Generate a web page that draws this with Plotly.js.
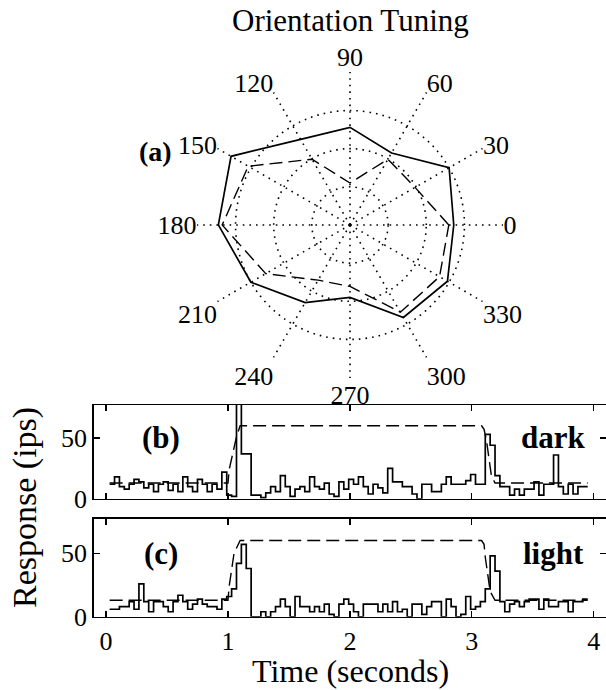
<!DOCTYPE html>
<html>
<head>
<meta charset="utf-8">
<script src="https://cdn.plot.ly/plotly-3.0.1.min.js"></script>
<style>html,body{margin:0;padding:0;background:#fff;}#chart{width:606px;height:690px;}</style>
</head>
<body>
<div id="chart"></div>
<script>
// ---------- Orientation tuning (polar) ----------
var angles = [0, 30, 60, 90, 120, 150, 180, 210, 240, 270, 300, 330];
var angleLabels = ["0", "30", "60", "90", "120", "150", "180", "210", "240", "270", "300", "330"];
var tuningSolid  = [2.72, 3.00, 2.18, 2.56, 2.59, 3.60, 3.45, 3.00, 2.35, 1.90, 2.80, 2.95];
var tuningDashed = [2.59, 1.97, 1.99, 1.10, 1.99, 3.08, 3.35, 2.55, 1.67, 1.61, 2.64, 2.71];
var ringValues = [1, 2, 3, 4];

// ---------- PSTH bins (left edges, 0.04 s) ----------
var binEdges = [0.03,0.07,0.11,0.15,0.19,0.23,0.27,0.31,0.35,0.39,0.43,0.47,0.51,0.55,0.59,0.63,0.67,0.71,0.75,0.79,
  0.83,0.87,0.91,0.95,0.99,1.03,1.07,1.11,1.15,1.19,1.23,1.27,1.31,1.35,1.39,1.43,1.47,1.51,1.55,1.59,
  1.63,1.67,1.71,1.75,1.79,1.83,1.87,1.91,1.95,1.99,2.03,2.07,2.11,2.15,2.19,2.23,2.27,2.31,2.35,2.39,
  2.43,2.47,2.51,2.55,2.59,2.63,2.67,2.71,2.75,2.79,2.83,2.87,2.91,2.95,2.99,3.03,3.07,3.11,3.15,3.19,
  3.23,3.27,3.31,3.35,3.39,3.43,3.47,3.51,3.55,3.59,3.63,3.67,3.71,3.75,3.79,3.83,3.87,3.91,3.95];

var darkRate = [12,18,10,8,12,16,14,9,12,6,12,14,7,12,6,18,10,6,16,12,
  6,12,8,22,3,2,110,37,37,3,3,1,5,10,6,19,10,2,8,10,
  6,18,10,8,13,4,2,14,8,16,12,18,10,4,12,9,5,25,14,14,
  10,10,4,0,12,12,6,6,12,18,12,12,12,15,20,12,12,53,44,19,
  10,10,3,8,3,8,8,14,3,12,12,36,10,4,12,4,10,10];

var lightRate = [6,6,8,8,12,6,26,12,4,12,12,8,4,12,17,12,6,10,14,10,
  8,8,6,14,16,22,42,57,38,0,0,4,0,4,8,14,8,0,16,8,
  8,4,8,4,10,2,0,10,14,10,4,0,10,10,10,4,10,4,12,4,
  6,0,10,10,2,8,12,12,0,14,8,0,2,16,6,8,12,22,48,36,
  12,4,10,12,8,12,14,14,6,14,8,8,12,12,4,12,12,14];

// model (dashed) traces
var darkModelT = [0.03, 1.00, 1.01, 1.07, 1.10, 3.08, 3.10, 3.12, 3.16, 3.19, 3.95];
var darkModelR = [13, 13, 24, 51, 60, 60, 57, 48, 19, 13, 13];
var lightModelT = [0.03, 1.00, 1.01, 1.05, 1.10, 3.08, 3.10, 3.11, 3.15, 3.19, 3.95];
var lightModelR = [13, 13, 24, 50, 60, 60, 57, 47, 20, 13, 13];

var timeTicks = [0, 1, 2, 3, 4];
var rateTicks = [0, 50];

function closeLoop(a) { return a.concat([a[0]]); }
function stepY(v) { return v.concat([v[v.length - 1]]); }

var serif = "Liberation Serif";

var traces = [
  {type: "scatterpolar", subplot: "polar", theta: closeLoop(angles), r: closeLoop(tuningSolid),
   mode: "lines", line: {color: "#000", width: 1.7}, showlegend: false, hoverinfo: "skip"},
  {type: "scatterpolar", subplot: "polar", theta: closeLoop(angles), r: closeLoop(tuningDashed),
   mode: "lines", line: {color: "#000", width: 1.4, dash: "13px,6px"}, showlegend: false, hoverinfo: "skip"},
  {type: "scatter", x: binEdges, y: stepY(darkRate), xaxis: "x2", yaxis: "y2", mode: "lines",
   line: {color: "#000", width: 1.7, shape: "hv"}, showlegend: false, hoverinfo: "skip"},
  {type: "scatter", x: darkModelT, y: darkModelR, xaxis: "x2", yaxis: "y2", mode: "lines",
   line: {color: "#000", width: 1.4, dash: "13px,6px"}, showlegend: false, hoverinfo: "skip"},
  {type: "scatter", x: binEdges, y: stepY(lightRate), xaxis: "x", yaxis: "y", mode: "lines",
   line: {color: "#000", width: 1.7, shape: "hv"}, showlegend: false, hoverinfo: "skip"},
  {type: "scatter", x: lightModelT, y: lightModelR, xaxis: "x", yaxis: "y", mode: "lines",
   line: {color: "#000", width: 1.4, dash: "13px,6px"}, showlegend: false, hoverinfo: "skip"}
];

var axisCommon = {
  showline: true, linecolor: "#000", linewidth: 1.5, mirror: "ticks",
  ticks: "inside", ticklen: 6, tickwidth: 1.2, tickcolor: "#000",
  showgrid: false, zeroline: false, fixedrange: true,
  tickfont: {family: serif, size: 26, color: "#000"}
};

var layout = {
  width: 606, height: 690,
  margin: {l: 0, r: 0, t: 0, b: 0},
  paper_bgcolor: "#fff", plot_bgcolor: "#fff",
  showlegend: false,
  font: {family: serif, color: "#000"},
  polar: {
    domain: {x: [0.3251, 0.8300], y: [0.4522, 0.8957]},
    bgcolor: "#fff",
    radialaxis: {range: [0, 4.01], tickvals: ringValues, showticklabels: false, ticks: "",
      showline: false, showgrid: true, gridcolor: "#000", gridwidth: 1.6, griddash: "1.6px,5px"},
    angularaxis: {direction: "counterclockwise", rotation: 0, tickvals: angles, ticktext: angleLabels,
      ticks: "", showline: false, showgrid: true, gridcolor: "#000", gridwidth: 1.6, griddash: "1.6px,5px",
      tickfont: {family: serif, size: 26, color: "#000"}}
  },
  xaxis: Object.assign({}, axisCommon, {domain: [0.1548, 1.0], range: [-0.1, 4.1], tickvals: timeTicks,
    anchor: "y"}),
  yaxis: Object.assign({}, axisCommon, {domain: [0.106, 0.248], range: [0, 77], tickvals: rateTicks,
    anchor: "x"}),
  xaxis2: Object.assign({}, axisCommon, {domain: [0.1548, 1.0], range: [-0.1, 4.1], tickvals: timeTicks,
    showticklabels: false, anchor: "y2", matches: "x"}),
  yaxis2: Object.assign({}, axisCommon, {domain: [0.277, 0.413], range: [0, 77], tickvals: rateTicks,
    anchor: "x2"}),
  annotations: [
    {text: "Orientation Tuning", xref: "paper", yref: "paper", x: 0.578, y: 0.97, showarrow: false,
     font: {family: serif, size: 31, color: "#000"}, xanchor: "center", yanchor: "middle"},
    {text: "<b>(a)</b>", xref: "paper", yref: "paper", x: 0.257, y: 0.78, showarrow: false,
     font: {family: serif, size: 28, color: "#000"}, xanchor: "center", yanchor: "middle"},
    {text: "<b>(b)</b>", xref: "x2", yref: "y2", x: 0.45, y: 50, showarrow: false,
     font: {family: serif, size: 31, color: "#000"}, xanchor: "center", yanchor: "middle"},
    {text: "<b>dark</b>", xref: "x2", yref: "y2", x: 3.67, y: 50, showarrow: false,
     font: {family: serif, size: 31, color: "#000"}, xanchor: "center", yanchor: "middle"},
    {text: "<b>(c)</b>", xref: "x", yref: "y", x: 0.45, y: 50, showarrow: false,
     font: {family: serif, size: 31, color: "#000"}, xanchor: "center", yanchor: "middle"},
    {text: "<b>light</b>", xref: "x", yref: "y", x: 3.67, y: 50, showarrow: false,
     font: {family: serif, size: 31, color: "#000"}, xanchor: "center", yanchor: "middle"},
    {text: "Response (ips)", xref: "paper", yref: "paper", x: 0.041, y: 0.265, showarrow: false,
     textangle: -90, font: {family: serif, size: 34, color: "#000"}, xanchor: "center", yanchor: "middle"},
    {text: "Time (seconds)", xref: "paper", yref: "paper", x: 0.578, y: 0.0, showarrow: false,
     font: {family: serif, size: 32, color: "#000"}, xanchor: "center", yanchor: "bottom", borderpad: 0}
  ]
};

Plotly.newPlot("chart", traces, layout, {staticPlot: true, displayModeBar: false});
</script>
</body>
</html>
